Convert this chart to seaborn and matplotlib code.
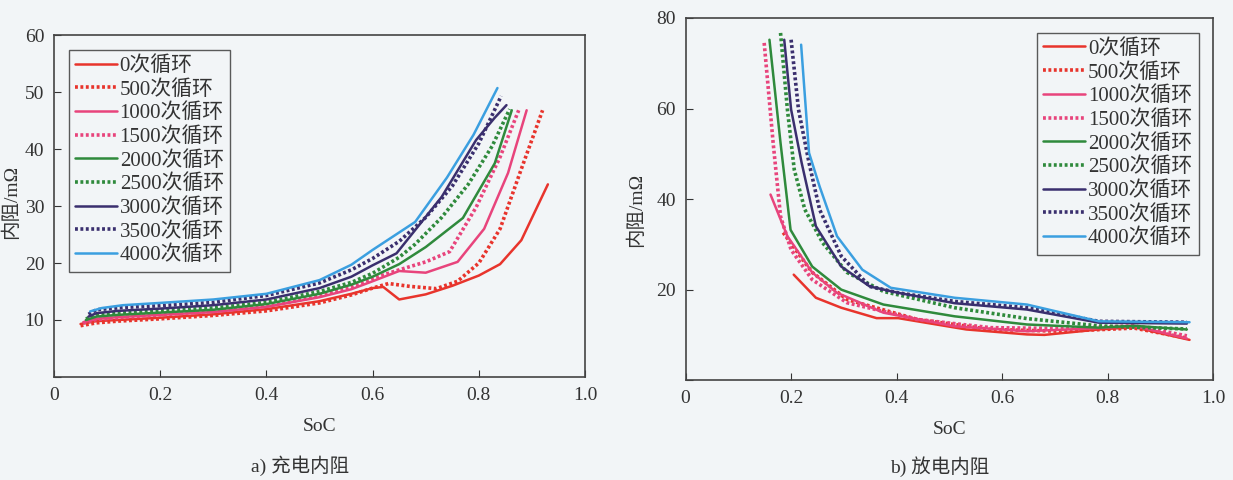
import numpy as np
import pandas as pd
import matplotlib
matplotlib.use("Agg")
import matplotlib.pyplot as plt
import seaborn as sns

sns.set_style("ticks")
plt.rcParams['font.family'] = ['Liberation Serif', 'Noto Sans CJK SC', 'DejaVu Sans']

labels = ['0次循环', '500次循环', '1000次循环', '1500次循环', '2000次循环',
          '2500次循环', '3000次循环', '3500次循环', '4000次循环']
colors = ['#e8342c', '#e8342c', '#e8447c', '#e8447c', '#2f8a3c',
          '#2f8a3c', '#3a2f6e', '#3a2f6e', '#3b9fe0']
dotted = [False, True, False, True, False, True, False, True, False]

# charge internal resistance (a)
charge_x = [
    [0.05, 0.08, 0.12, 0.2, 0.3, 0.4, 0.5, 0.56, 0.6, 0.62, 0.65, 0.7, 0.75, 0.8, 0.84, 0.88, 0.93],
    [0.05, 0.08, 0.12, 0.2, 0.3, 0.4, 0.5, 0.56, 0.6, 0.63, 0.67, 0.72, 0.76, 0.8, 0.84, 0.88, 0.92],
    [0.055, 0.08, 0.12, 0.2, 0.3, 0.4, 0.5, 0.56, 0.6, 0.65, 0.7, 0.76, 0.81, 0.855, 0.89],
    [0.055, 0.08, 0.12, 0.2, 0.3, 0.4, 0.5, 0.56, 0.6, 0.65, 0.7, 0.745, 0.795, 0.84, 0.875],
    [0.06, 0.08, 0.12, 0.2, 0.3, 0.4, 0.5, 0.56, 0.6, 0.65, 0.7, 0.77, 0.83, 0.862],
    [0.06, 0.08, 0.12, 0.2, 0.3, 0.4, 0.5, 0.56, 0.6, 0.65, 0.68, 0.73, 0.78, 0.825, 0.858],
    [0.065, 0.08, 0.12, 0.2, 0.3, 0.4, 0.5, 0.56, 0.6, 0.645, 0.73, 0.795, 0.83, 0.852],
    [0.065, 0.08, 0.13, 0.2, 0.3, 0.4, 0.5, 0.56, 0.6, 0.65, 0.7, 0.75, 0.8, 0.842],
    [0.068, 0.09, 0.13, 0.2, 0.3, 0.4, 0.5, 0.56, 0.6, 0.68, 0.74, 0.79, 0.835],
]
charge_y = [
    [9.3, 9.8, 10.0, 10.4, 11.0, 11.9, 13.3, 14.6, 15.6, 15.8, 13.6, 14.5, 16.0, 17.8, 19.8, 24.0, 33.8],
    [9.0, 9.5, 9.8, 10.2, 10.8, 11.6, 13.0, 14.4, 15.6, 16.4, 15.9, 15.5, 16.8, 20.0, 26.0, 36.5, 46.8],
    [9.6, 10.2, 10.5, 10.9, 11.4, 12.3, 14.0, 15.4, 16.8, 18.6, 18.3, 20.2, 26.0, 35.8, 46.8],
    [9.5, 10.1, 10.4, 10.9, 11.5, 12.4, 14.2, 15.8, 17.3, 18.8, 20.2, 22.0, 29.8, 38.6, 46.8],
    [10.0, 10.6, 10.9, 11.3, 11.8, 12.8, 14.6, 16.2, 17.6, 19.8, 22.8, 27.9, 37.5, 46.8],
    [10.2, 10.8, 11.2, 11.6, 12.1, 13.1, 15.0, 16.6, 18.2, 21.0, 23.3, 28.0, 33.8, 40.5, 47.0],
    [10.6, 11.2, 11.6, 12.0, 12.6, 13.6, 15.6, 17.6, 19.6, 21.7, 31.6, 41.6, 45.5, 47.7],
    [11.0, 11.8, 12.2, 12.5, 13.1, 14.3, 16.5, 18.8, 20.8, 23.8, 28.0, 33.5, 41.0, 49.3],
    [11.5, 12.1, 12.6, 13.0, 13.6, 14.6, 17.0, 19.7, 22.3, 27.2, 35.0, 42.5, 50.7],
]

# discharge internal resistance (b)
discharge_x = [
    [0.205, 0.247, 0.295, 0.362, 0.403, 0.532, 0.647, 0.68, 0.783, 0.85, 0.955],
    [0.185, 0.24, 0.306, 0.44, 0.578, 0.715, 0.85, 0.95],
    [0.161, 0.193, 0.24, 0.287, 0.375, 0.51, 0.647, 0.783, 0.85, 0.95],
    [0.149, 0.166, 0.18, 0.2, 0.24, 0.306, 0.44, 0.578, 0.715, 0.85, 0.95],
    [0.159, 0.18, 0.199, 0.24, 0.295, 0.375, 0.51, 0.647, 0.783, 0.85, 0.95],
    [0.18, 0.193, 0.206, 0.226, 0.26, 0.306, 0.375, 0.51, 0.647, 0.783, 0.95],
    [0.187, 0.2, 0.22, 0.247, 0.295, 0.349, 0.403, 0.51, 0.647, 0.783, 0.95],
    [0.2, 0.214, 0.234, 0.254, 0.295, 0.349, 0.403, 0.51, 0.647, 0.783, 0.95],
    [0.219, 0.234, 0.254, 0.287, 0.335, 0.389, 0.51, 0.647, 0.783, 0.955],
]
discharge_y = [
    [23.3, 18.2, 16.0, 13.7, 13.7, 11.2, 10.1, 10.0, 11.2, 11.7, 8.9],
    [32.6, 23.8, 17.8, 13.4, 11.2, 10.8, 11.5, 9.3],
    [41.0, 31.8, 23.8, 19.3, 14.9, 11.9, 10.8, 11.5, 12.0, 9.2],
    [74.5, 52.4, 36.2, 28.8, 22.2, 17.1, 13.4, 11.6, 11.4, 12.0, 9.8],
    [75.2, 52.4, 33.2, 25.1, 20.0, 16.7, 14.1, 12.3, 11.6, 12.0, 11.2],
    [76.7, 59.8, 46.5, 37.7, 30.3, 23.8, 19.6, 16.0, 13.6, 12.0, 11.3],
    [75.2, 59.8, 48.0, 34.0, 25.1, 20.7, 19.3, 17.0, 15.6, 12.7, 12.5],
    [75.2, 59.8, 48.0, 37.7, 27.4, 20.7, 19.3, 17.4, 16.0, 13.0, 12.8],
    [74.1, 50.2, 42.8, 31.8, 24.4, 20.4, 18.2, 16.7, 13.0, 12.8],
]

paper = '#f2f5f7'
ink = '#333333'
fig = plt.figure(figsize=(12.33, 4.8), dpi=100, facecolor=paper)
ax1 = fig.add_axes([0.0438, 0.2146, 0.4307, 0.7124])
ax2 = fig.add_axes([0.556, 0.208, 0.428, 0.7545])

def draw(ax, xs, ys, ymax, yticks, legend_loc):
    ax.set_facecolor(paper)
    for i in range(len(labels)):
        df = pd.DataFrame({'SoC': xs[i], 'R': ys[i]})
        ls = (0, (0.8, 0.7)) if dotted[i] else '-'
        lw = 2.6 if dotted[i] else 1.8
        sns.lineplot(data=df, x='SoC', y='R', ax=ax, sort=False, estimator=None,
                     color=colors[i], linestyle=ls, linewidth=lw, label=labels[i])
    ax.set_xlim(0, 1.0)
    ax.set_ylim(0, ymax)
    ax.set_xticks([0, 0.2, 0.4, 0.6, 0.8, 1.0])
    ax.set_xticklabels(['0', '0.2', '0.4', '0.6', '0.8', '1.0'])
    ax.set_yticks(yticks)
    ax.set_yticklabels([''] + [str(t) for t in yticks[1:]])
    ax.tick_params(direction='in', length=5, labelsize=14, colors=ink, pad=7)
    for s in ax.spines.values():
        s.set_visible(True)
        s.set_color('#444444')
        s.set_linewidth(1.2)
    ax.set_xlabel('SoC', fontsize=14, color=ink, labelpad=10)
    ax.set_ylabel('')
    leg = ax.legend(loc=legend_loc, fontsize=15, frameon=True, fancybox=False,
                    handlelength=2.0, handletextpad=0.15, labelspacing=0.18,
                    borderpad=0.3, borderaxespad=0.7)
    leg.get_frame().set_edgecolor(ink)
    leg.get_frame().set_facecolor(paper)
    leg.get_frame().set_linewidth(1.0)
    for t in leg.get_texts():
        t.set_color(ink)

draw(ax1, charge_x, charge_y, 60, [0, 10, 20, 30, 40, 50, 60], 'upper left')
draw(ax2, discharge_x, discharge_y, 80, [0, 20, 40, 60, 80], 'upper right')

fig.text(0.0015, 0.58, '内阻/mΩ', rotation=90, ha='left', va='center', fontsize=14, color=ink)
fig.text(0.516, 0.5625, '内阻/mΩ', rotation=90, ha='center', va='center', fontsize=14, color=ink)
fig.text(0.243, 0.03, 'a) 充电内阻', ha='center', va='center', fontsize=14, color=ink)
fig.text(0.762, 0.027, 'b) 放电内阻', ha='center', va='center', fontsize=14, color=ink)

fig.savefig('out.png', dpi=100, facecolor=paper)
